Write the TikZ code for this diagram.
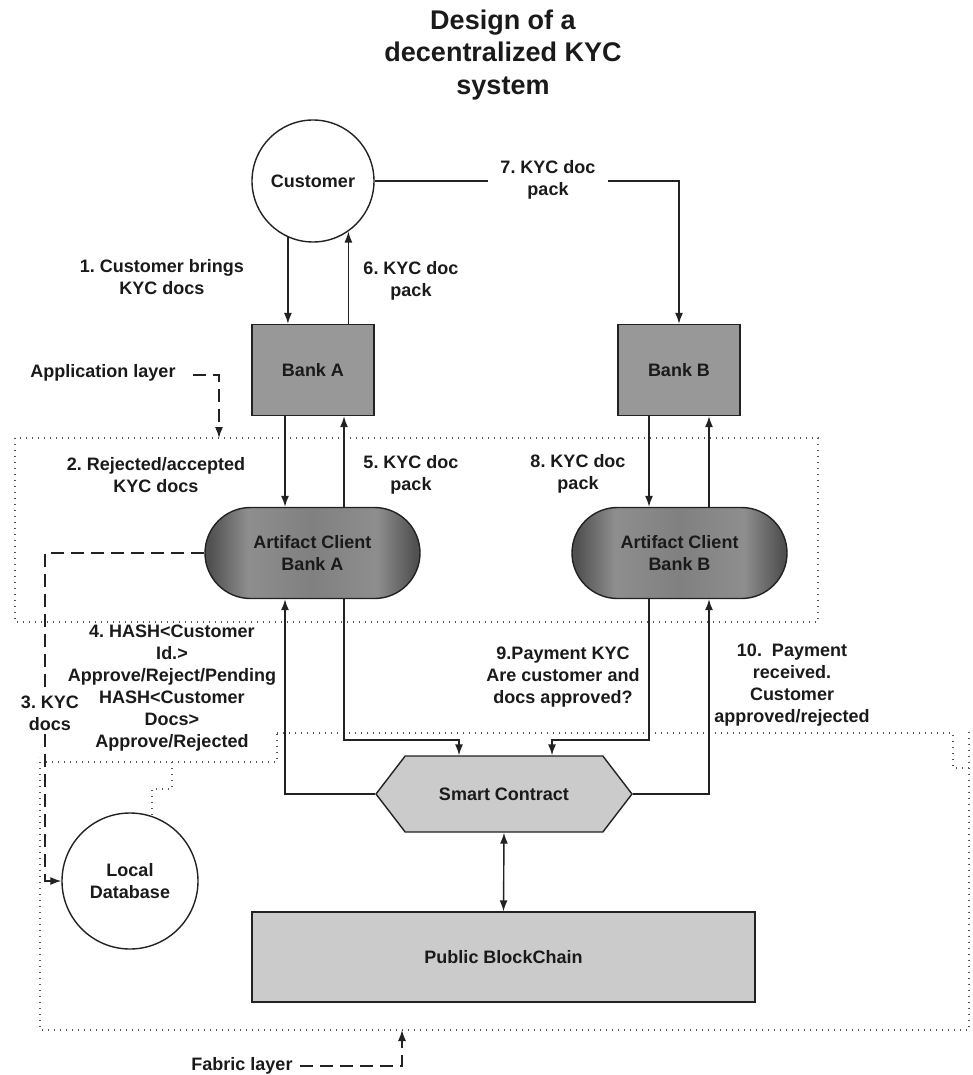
\documentclass[tikz,border=0pt]{standalone}
\usepackage{fontspec}
\setmainfont{Liberation Sans}
\usetikzlibrary{arrows.meta,shapes.misc,shapes.symbols,calc}
\definecolor{txt}{HTML}{1A1A1A}
\definecolor{edge}{HTML}{222222}
\definecolor{dotc}{HTML}{555555}
\definecolor{bankfill}{HTML}{989898}
\definecolor{lightfill}{HTML}{CBCBCB}
\definecolor{acd}{HTML}{505050}
\definecolor{acl}{HTML}{8E8E8E}
\definecolor{acm}{HTML}{808080}
\pgfdeclarehorizontalshading{acshade}{100bp}{color(0bp)=(acd); color(26bp)=(acd); color(35bp)=(acl); color(50bp)=(acm); color(65bp)=(acl); color(74bp)=(acd); color(100bp)=(acd)}
\frenchspacing
\begin{document}
\begin{tikzpicture}[x=1pt,y=-1pt,
  every node/.style={font=\bfseries\fontsize{18}{22}\selectfont, text=txt, align=center, inner sep=0pt},
  titlefont/.style={font=\bfseries\fontsize{27}{32.5}\selectfont},
  shapebox/.style={draw=edge, line width=1.4pt},
  conn/.style={draw=edge, line width=1.4pt, -{Latex[length=11pt,width=8pt]}},
  biconn/.style={draw=edge, line width=1.4pt, {Latex[length=11pt,width=8pt]}-{Latex[length=11pt,width=8pt]}},
  dasharr/.style={draw=edge, line width=1.3pt, dash pattern=on 13pt off 7pt, -{Latex[length=11pt,width=8pt]}},
  dotline/.style={draw=dotc, line width=1.2pt, dash pattern=on 1.2pt off 4.8pt},
  wlbl/.style={fill=white, inner xsep=12pt, inner ysep=4pt}]
\useasboundingbox (0,0) rectangle (973,1075);

% layer boundaries
\draw[dotline] (15,438) rectangle (818,622);
\draw[dotline] (277,733) -- (953,733) -- (953,768) -- (969,768);
\draw[dotline] (969,732) -- (969,1030) -- (40,1030) -- (40,757);
\draw[dotline] (46,762) -- (277,762) -- (277,733);
\draw[dotline] (172,762) -- (172,789) -- (152,789) -- (152,817);

% title
\node[titlefont] (title) at (503,55) {Design of a\\decentralized KYC\\system};

% nodes
\node[shapebox, circle, fill=white, minimum size=122pt] (cust) at (313,181) {Customer};
\node[shapebox, rectangle, fill=bankfill, minimum width=122pt, minimum height=91pt] (bankA) at (313,370) {Bank A};
\node[shapebox, rectangle, fill=bankfill, minimum width=122pt, minimum height=91pt] (bankB) at (679,370) {Bank B};
\node[shapebox, rounded rectangle, shading=acshade, minimum width=215pt, minimum height=91pt] (aca) at (312.5,553) {Artifact Client\\Bank A};
\node[shapebox, rounded rectangle, shading=acshade, minimum width=215pt, minimum height=91pt] (acb) at (679.5,553) {Artifact Client\\Bank B};
\node[shapebox, signal, signal to=east and west, signal pointer angle=105, fill=lightfill, minimum width=256pt, minimum height=76pt] (sc) at (504,794) {Smart Contract};
\node[shapebox, rectangle, fill=lightfill, minimum width=503pt, minimum height=90pt] (pb) at (503.5,957) {Public BlockChain};
\node[shapebox, circle, fill=white, minimum size=136pt] (ldb) at (130,881) {Local\\Database};

% x positions of vertical connectors
\coordinate (vA1) at (285,0);
\coordinate (vA2) at (344,0);
\coordinate (vB1) at (649,0);
\coordinate (vB2) at (709,0);
\coordinate (vS1) at (459,0);
\coordinate (vS2) at (552,0);
\coordinate (hS) at (0,740);
\coordinate (vL) at (45,0);

% connectors
\draw[conn] (cust.246.8) -- (cust.246.8 |- bankA.north);
\draw[conn] (bankA.north -| cust.305) -- (cust.305);
\draw[conn] (cust.east) -- (cust.east -| bankB.north) -- (bankB.north);
\draw[conn] (bankA.south -| vA1) -- (aca.north -| vA1);
\draw[conn] (aca.north -| vA2) -- (bankA.south -| vA2);
\draw[conn] (bankB.south -| vB1) -- (acb.north -| vB1);
\draw[conn] (acb.north -| vB2) -- (bankB.south -| vB2);
\draw[conn] (aca.south -| vA2) -- (hS -| vA2) -- (hS -| vS1) -- (sc.north -| vS1);
\draw[conn] (acb.south -| vB1) -- (hS -| vB1) -- (hS -| vS2) -- (sc.north -| vS2);
\draw[conn] (sc.west) -- (sc.west -| vA1) -- (aca.south -| vA1);
\draw[conn] (sc.east) -- (sc.east -| vB2) -- (acb.south -| vB2);
\draw[biconn] (sc.south) -- (pb.north);
\draw[dasharr] (aca.west) -- (aca.west -| vL) -- (ldb.west -| vL) -- (ldb.west);

% layer pointers
\node (applbl) at (103,373) {Application layer};
\coordinate (apptip) at (219,438);
\draw[dasharr] (193,375) -- (apptip |- 0,375) -- (apptip);
\node (fablbl) at (242,1066) {Fabric layer};
\coordinate (fabtip) at (402,1030);
\draw[dasharr] (300,1066) -- (fabtip |- 0,1066) -- (fabtip);

% labels
\node (l1) at (162,277) {1. Customer brings\\KYC docs};
\node (l6) at (411,281) {6. KYC doc\\pack};
\node[wlbl] (l7) at (548,180) {7. KYC doc\\pack};
\node (l2) at (156,475) {2. Rejected/accepted\\KYC docs};
\node (l5) at (411,475) {5. KYC doc\\pack};
\node (l8) at (578,474) {8. KYC doc\\pack};
\node (l4) at (172,688) {4. HASH<Customer\\Id.>\\Approve/Reject/Pending\\HASH<Customer\\Docs>\\Approve/Rejected};
\node[wlbl, inner xsep=2pt] (l3) at (50,713) {3. KYC\\docs};
\node (l9) at (563,677) {9.Payment KYC\\Are customer and\\docs approved?};
\node (l10) at (792,685) {10.\ \ Payment\\received.\\Customer\\approved/rejected};
\end{tikzpicture}
\end{document}
